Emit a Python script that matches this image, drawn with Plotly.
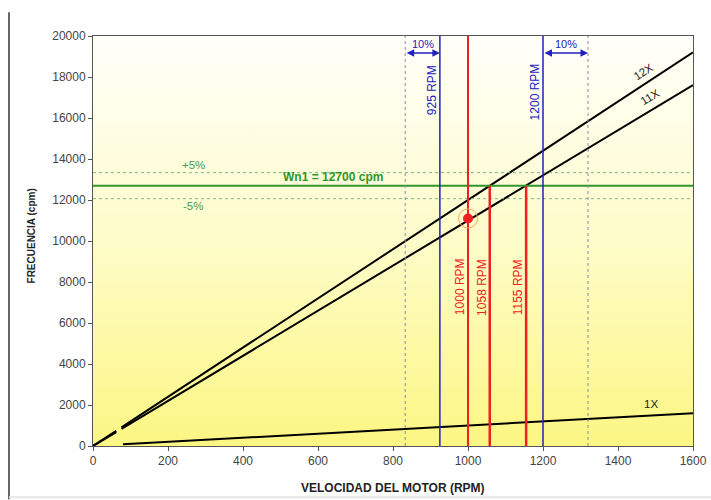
import plotly.graph_objects as go

# ---- data ----
rpm_short = [0, 62]
rpm_long = [76, 1600]
rpm_1x = [80, 1600]
order_12 = 12
order_11 = 11
order_1 = 1
wn1 = 12700
band_pct = 0.05
blue_rpm = [925, 1200]
blue_pct = 0.10
red_full_rpm = 1000
red_cross_rpm = [1058, 1155]
op_point = (1000, 11100)
x_range = [0, 1600]
y_range = [0, 20000]
x_ticks = list(range(0, 1601, 200))
y_ticks = list(range(0, 20001, 2000))

FONT = "Liberation Sans"
GREEN = "#2f962f"
BLUE = "#2020c0"
RED = "#f02020"

fig = go.Figure()

# gradient background of plot area
fig.add_trace(go.Scatter(
    x=[x_range[0], x_range[1], x_range[1], x_range[0], x_range[0]],
    y=[y_range[0], y_range[0], y_range[1], y_range[1], y_range[0]],
    mode="none", fill="toself",
    fillgradient=dict(type="vertical", start=y_range[0], stop=y_range[1],
                      colorscale=[[0, "#fcf683"], [0.5, "#fefcc9"], [1, "#fffffa"]]),
    hoverinfo="skip", showlegend=False))

def order_line(k, xs_list):
    xs, ys = [], []
    for seg in xs_list:
        xs += [seg[0], seg[1], None]
        ys += [k * seg[0], k * seg[1], None]
    return xs, ys

for k in (order_12, order_11):
    xs, ys = order_line(k, [rpm_short, rpm_long])
    fig.add_trace(go.Scatter(x=xs, y=ys, mode="lines",
                             line=dict(color="black", width=2), showlegend=False))
xs, ys = order_line(order_1, [rpm_1x])
fig.add_trace(go.Scatter(x=xs, y=ys, mode="lines",
                         line=dict(color="black", width=2), showlegend=False))

# natural frequency band
for f in (1 + band_pct, 1 - band_pct):
    fig.add_trace(go.Scatter(x=x_range, y=[wn1 * f] * 2, mode="lines",
                             line=dict(color="#7fb87f", width=1, dash="dot"),
                             showlegend=False))
fig.add_trace(go.Scatter(x=x_range, y=[wn1] * 2, mode="lines",
                         line=dict(color=GREEN, width=2), showlegend=False))

# blue limits and 10% dotted
for r, f in zip(blue_rpm, (1 - blue_pct, 1 + blue_pct)):
    fig.add_trace(go.Scatter(x=[r * f] * 2, y=y_range, mode="lines",
                             line=dict(color="#8a8aa8", width=1, dash="dot"),
                             showlegend=False))
    fig.add_trace(go.Scatter(x=[r] * 2, y=y_range, mode="lines",
                             line=dict(color=BLUE, width=1.5), showlegend=False))

# red lines
fig.add_trace(go.Scatter(x=[red_full_rpm] * 2, y=y_range, mode="lines",
                         line=dict(color=RED, width=2), showlegend=False))
for r in red_cross_rpm:
    fig.add_trace(go.Scatter(x=[r] * 2, y=[0, wn1], mode="lines",
                             line=dict(color=RED, width=2.5), showlegend=False))

# operating point
fig.add_trace(go.Scatter(x=[op_point[0]], y=[op_point[1]], mode="markers",
                         marker=dict(symbol="circle-open", size=19,
                                     line=dict(color=RED, width=1)),
                         showlegend=False))
fig.add_trace(go.Scatter(x=[op_point[0]], y=[op_point[1]], mode="markers",
                         marker=dict(symbol="circle", size=10, color=RED),
                         showlegend=False))

ann = []
def txt(x, y, s, color, size=12, angle=0, bold=False, **kw):
    d = dict(x=x, y=y, xref="x", yref="y", text=("<b>%s</b>" % s) if bold else s,
             showarrow=False, textangle=angle,
             font=dict(family=FONT, size=size, color=color))
    d.update(kw)
    ann.append(d)

# RPM labels
txt(blue_rpm[0], 17350, "%d RPM" % blue_rpm[0], BLUE, angle=-90, xshift=-8)
txt(blue_rpm[1], 17250, "%d RPM" % blue_rpm[1], BLUE, angle=-90, xshift=-8)
txt(red_full_rpm, 7750, "%d RPM" % red_full_rpm, RED, angle=-90, xshift=-8)
for r in red_cross_rpm:
    txt(r, 7750, "%d RPM" % r, RED, angle=-90, xshift=-8)

# 10% arrows
arrow_y = 19170
for a, b in ((blue_rpm[0] * (1 - blue_pct), blue_rpm[0]), (blue_rpm[1], blue_rpm[1] * (1 + blue_pct))):
    ann.append(dict(x=b, y=arrow_y, ax=a, ay=arrow_y, xref="x", yref="y",
                    axref="x", ayref="y", text="", showarrow=True,
                    arrowhead=2, arrowside="end+start", arrowsize=1,
                    arrowwidth=1.5, arrowcolor=BLUE))
    txt((a + b) / 2, 19600, "10%", BLUE, size=11)

# wn label and band labels
txt(640, wn1, "Wn1 = 12700 cpm", GREEN, size=12, bold=True, yanchor="bottom", yshift=0)
txt(267, 13700, "+5%", "#4a9a4a", size=11.5)
txt(267, 11700, "-5%", "#4a9a4a", size=11.5)

# order labels
txt(1467, 18250, "12X", "#222222", size=11.5, angle=-33)
txt(1485, 17020, "11X", "#222222", size=11.5, angle=-31)
txt(1488, 2050, "1X", "#222222", size=11.5)

# axis titles
ann.append(dict(x=0.5, y=-0.102, xref="paper", yref="paper", showarrow=False,
                text="<b>VELOCIDAD DEL MOTOR (RPM)</b>", xanchor="center", yanchor="middle",
                font=dict(family=FONT, size=12, color="#222222")))
ann.append(dict(x=-0.102, y=0.513, xref="paper", yref="paper", showarrow=False,
                text="<b>FRECUENCIA (cpm)</b>", textangle=-90, xanchor="center", yanchor="middle",
                font=dict(family=FONT, size=10, color="#222222")))

fig.update_layout(
    width=711, height=500,
    margin=dict(l=93, r=18, t=36, b=54),
    paper_bgcolor="white", plot_bgcolor="white",
    showlegend=False,
    annotations=ann,
    font=dict(family=FONT, size=11, color="#444444"),
    shapes=[
        dict(type="line", xref="paper", yref="paper", x0=-0.14, x1=-0.14,
             y0=-0.13, y1=1.058, line=dict(color="#333333", width=1.5)),
        dict(type="line", xref="paper", yref="paper", x0=-0.14, x1=1.03,
             y0=-0.125, y1=-0.125, line=dict(color="#e6e6e6", width=2)),
    ],
)
fig.update_xaxes(range=x_range, tickvals=x_ticks, tickformat="d", automargin=False,
                 showgrid=False, zeroline=False,
                 showline=True, linecolor="#555555", linewidth=1, mirror=True,
                 ticks="outside", ticklen=4, tickcolor="#555555",
                 tickfont=dict(family=FONT, size=12, color="#444444"))
fig.update_yaxes(range=y_range, tickvals=y_ticks, tickformat="d", automargin=False,
                 showgrid=False, zeroline=False,
                 showline=True, linecolor="#555555", linewidth=1, mirror=True,
                 ticks="outside", ticklen=4, tickcolor="#555555",
                 tickfont=dict(family=FONT, size=12, color="#444444"))

fig.write_html("out.html")
